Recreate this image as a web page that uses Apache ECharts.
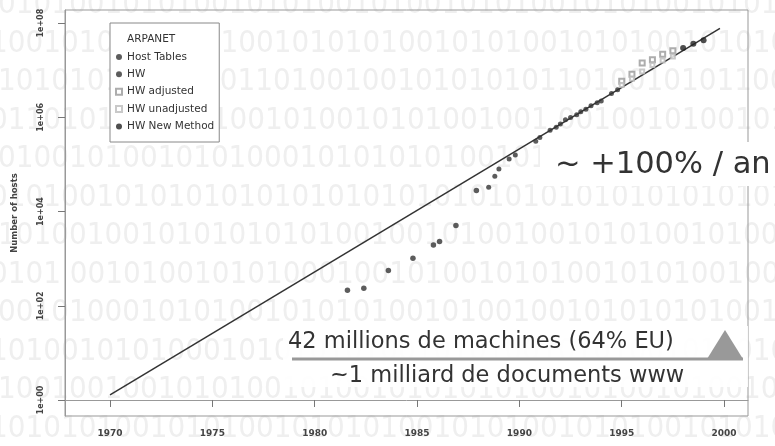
<!DOCTYPE html>
<html><head><meta charset="utf-8">
<script src="https://cdn.jsdelivr.net/npm/echarts@6/dist/echarts.min.js"></script>
<style>html,body{margin:0;padding:0;background:#fff}#c{width:775px;height:446px}</style>
</head><body><div id="c"></div>
<script>
// ---- data ----
const xTickYears = [1970, 1975, 1980, 1985, 1990, 1995, 2000];
const yTickPowers = [0, 2, 4, 6, 8];
const legendNames = ['ARPANET', 'Host Tables', 'HW', 'HW adjusted', 'HW unadjusted', 'HW New Method'];
const hostTablesYears = [1981.6, 1982.4, 1983.6, 1984.8, 1985.8, 1986.1, 1986.9, 1987.9];
const hostTablesCounts = [213, 235, 562, 1024, 1961, 2308, 5089, 28174];
const hwYears = [1988.5, 1988.8, 1989.0, 1989.5, 1989.8, 1990.8, 1991.0, 1991.5, 1991.8, 1992.0, 1992.25, 1992.5, 1992.8, 1993.0, 1993.25, 1993.5, 1993.8, 1994.0, 1994.5, 1994.8];
const hwCounts = [33000, 56000, 80000, 130000, 159000, 313000, 376000, 535000, 617000, 727000, 890000, 992000, 1136000, 1313000, 1486000, 1776000, 2056000, 2217000, 3212000, 3864000];
const hwUnadjYears = [1995.0, 1995.5, 1996.0, 1996.5, 1997.0, 1997.5];
const hwUnadjCounts = [4852000, 6642000, 9472000, 12881000, 16146000, 19540000];
const hwAdjYears = [1995.0, 1995.5, 1996.0, 1996.5, 1997.0, 1997.5];
const hwAdjCounts = [5846000, 8200000, 14352000, 16729000, 21819000, 26053000];
const newMethodYears = [1998.0, 1998.5, 1999.0];
const newMethodCounts = [29670000, 36739000, 43230000];
const fitYears = [1970, 1999.8];
const fitCounts = [1.28, 78000000];
const growthText = '~ +100% / an';
const machinesText = '42 millions de machines (64% EU)';
const documentsText = '~1 milliard de documents www';
const bgRows = [
  '0101001010100101010010100101010010101001010100101010010101',
  '1001010  100101001010101001010100101010010101001  1010101',
  '1010101 10010011010010010101010110100101011001001011010',
  '0110101 010101001010010101001001 00100101001010100101010',
  '0100101001010100010101010100101010010010010101001010100',
  '0101001010101010101010101010101010101010101010101010101',
  '1010010010101010101001001010010010101001010010100101001',
  '0101 00101001010100010010100101010010101001001010100101',
  '0010100010101001010101001010010010101010100101001010010',
  '1010010101000101010101001010100101010010100101010101001',
  '1001001001010100101001010101010010100101001010010100101',
  '1010101001010100101010100101010010101001010100101001010',
  '0010010101001010100100101010010101001010010100101010010'
];

const L = v => Math.log10(v);
const pts = (xs, ys) => xs.map((x, i) => [x, L(ys[i])]);

const bgEls = bgRows.map((s, i) => ({
  type: 'text', z: -10, x: (i % 2 ? -10 : -2), y: 5 + i * 38.5,
  style: { text: s, fontSize: 31, fontFamily: '"Liberation Sans Narrow", "DejaVu Sans Condensed", sans-serif', fill: '#efefef', verticalAlign: 'middle' }
}));

const chart = echarts.init(document.getElementById('c'), null, { renderer: 'canvas' });
const axisFont = { fontFamily: 'DejaVu Sans', fontSize: 8, fontWeight: 'bold', color: '#444' };
chart.setOption({
  backgroundColor: '#fff',
  animation: false,
  grid: { left: 65, right: 27, top: 10, bottom: 30, show: true, borderColor: '#999', borderWidth: 1, backgroundColor: 'transparent' },
  legend: {
    orient: 'vertical', left: 110, top: 23,
    backgroundColor: '#fff', borderColor: '#888', borderWidth: 1,
    padding: [11, 5, 10, 5], itemGap: 6.4, itemWidth: 6, itemHeight: 6,
    textStyle: { fontSize: 10.5, lineHeight: 10, color: '#333', fontFamily: 'DejaVu Sans' },
    data: legendNames.map((n, i) => i === 0 ? { name: n, icon: 'none' } : n)
  },
  xAxis: {
    type: 'value', min: 1967.8, max: 2001.17,
    axisLine: { show: true, lineStyle: { color: '#999' } },
    axisTick: { show: true, length: 7, lineStyle: { color: '#777' }, customValues: xTickYears },
    axisLabel: Object.assign({ margin: 13, customValues: xTickYears, formatter: v => String(v) }, axisFont, { fontSize: 9 }),
    splitLine: { show: false }
  },
  yAxis: {
    type: 'value', min: -0.34, max: 8.28,
    name: 'Number of hosts', nameLocation: 'middle', nameRotate: 90, nameGap: 46,
    nameTextStyle: { fontFamily: 'DejaVu Sans', fontSize: 8.5, fontWeight: 'bold', color: '#444' },
    axisLine: { show: true, lineStyle: { color: '#999' } },
    axisTick: { show: true, length: 7, lineStyle: { color: '#777' }, customValues: yTickPowers },
    axisLabel: Object.assign({ margin: 20, rotate: 90, customValues: yTickPowers, formatter: v => '1e+' + String(Math.round(v)).padStart(2, '0') }, axisFont),
    splitLine: { show: false }
  },
  series: [
    { name: 'fit', type: 'line', data: pts(fitYears, fitCounts), symbol: 'none', lineStyle: { color: '#333', width: 1.5 }, z: 2 },
    { name: 'ARPANET', type: 'scatter', data: [], symbol: 'none' },
    { name: 'Host Tables', type: 'scatter', data: pts(hostTablesYears, hostTablesCounts), symbol: 'circle', symbolSize: 5.5, itemStyle: { color: '#333' }, z: 3 },
    { name: 'HW', type: 'scatter', data: pts(hwYears, hwCounts), symbol: 'circle', symbolSize: 5, itemStyle: { color: '#333' }, z: 3 },
    { name: 'HW adjusted', type: 'scatter', data: pts(hwAdjYears, hwAdjCounts), symbol: 'emptyRect', symbolSize: 5, itemStyle: { color: '#999', borderWidth: 1 }, z: 3 },
    { name: 'HW unadjusted', type: 'scatter', data: pts(hwUnadjYears, hwUnadjCounts), symbol: 'emptyRect', symbolSize: 4, itemStyle: { color: '#bbb', borderWidth: 1 }, z: 3 },
    { name: 'HW New Method', type: 'scatter', data: pts(newMethodYears, newMethodCounts), symbol: 'circle', symbolSize: 6, itemStyle: { color: '#222' }, z: 3 }
  ],
  graphic: bgEls.concat([
    { type: 'rect', z: 50, shape: { x: 540, y: 142, width: 240, height: 44 }, style: { fill: '#fff' } },
    { type: 'text', z: 51, x: 555, y: 165, style: { text: growthText, fontSize: 30.5, fontFamily: 'DejaVu Sans', fill: '#333', verticalAlign: 'middle' } },
    { type: 'rect', z: 50, shape: { x: 283, y: 326, width: 465, height: 61 }, style: { fill: 'rgba(255,255,255,0.9)' } },
    { type: 'text', z: 51, x: 288, y: 342, style: { text: machinesText, fontSize: 22.5, fontFamily: 'DejaVu Sans', fill: '#333', verticalAlign: 'middle' } },
    { type: 'line', z: 51, shape: { x1: 292, y1: 359, x2: 743, y2: 359 }, style: { stroke: '#999', lineWidth: 3 } },
    { type: 'polygon', z: 51, shape: { points: [[707, 359], [725, 330], [743, 359]] }, style: { fill: '#999' } },
    { type: 'text', z: 51, x: 330, y: 376, style: { text: documentsText, fontSize: 22.5, fontFamily: 'DejaVu Sans', fill: '#333', verticalAlign: 'middle' } }
  ])
});
</script>
</body></html>
